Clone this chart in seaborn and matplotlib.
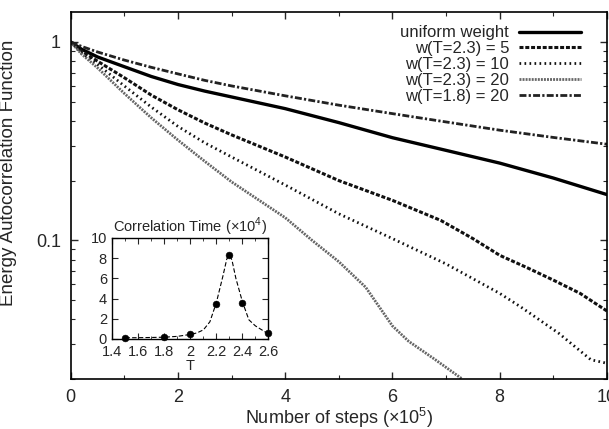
import numpy as np
import pandas as pd
import matplotlib
matplotlib.use("Agg")
import matplotlib.pyplot as plt
import seaborn as sns
from matplotlib.ticker import LogLocator, FixedLocator, MultipleLocator

# ---- data (x in units of 1e5 steps) ----
x_uniform = [0, 0.2, 0.5, 1, 1.5, 2, 2.5, 3, 4, 5, 6, 7, 8, 9, 10]
y_uniform = [1.0, 0.92, 0.84, 0.75, 0.67, 0.61, 0.565, 0.528, 0.461, 0.392, 0.329, 0.284, 0.245, 0.206, 0.17]

x_w5 = [0, 0.2, 0.5, 1, 1.5, 2, 2.5, 3, 4, 5, 6, 6.9, 7.5, 8, 8.5, 9, 9.5, 10]
y_w5 = [1.0, 0.9, 0.8, 0.66, 0.54, 0.455, 0.39, 0.34, 0.263, 0.2, 0.159, 0.126, 0.102, 0.084, 0.073, 0.063, 0.054, 0.044]

x_w10 = [0, 0.2, 0.5, 1, 1.5, 2, 2.5, 3, 4, 5, 6, 7, 8, 8.4, 9.1, 9.7, 10]
y_w10 = [1.0, 0.88, 0.77, 0.6, 0.47, 0.375, 0.31, 0.263, 0.19, 0.136, 0.102, 0.076, 0.054, 0.046, 0.034, 0.025, 0.024]

x_w20 = [0, 0.2, 0.5, 1, 1.5, 2, 2.5, 3, 4, 4.5, 5, 5.5, 6, 6.3, 6.8, 7.3]
y_w20 = [1.0, 0.87, 0.74, 0.55, 0.415, 0.32, 0.25, 0.197, 0.13, 0.1, 0.078, 0.058, 0.037, 0.031, 0.025, 0.02]

x_w20_18 = [0, 0.2, 0.5, 1, 1.5, 2, 2.5, 3, 4, 5, 6, 7, 8, 9, 10]
y_w20_18 = [1.0, 0.95, 0.89, 0.81, 0.745, 0.69, 0.64, 0.6, 0.535, 0.48, 0.435, 0.395, 0.359, 0.33, 0.305]

labels = ["uniform weight", "w(T=2.3) = 5", "w(T=2.3) = 10", "w(T=2.3) = 20", "w(T=1.8) = 20"]

# inset: correlation time (x1e4) vs T
T_pts = [1.5, 1.8, 2.0, 2.2, 2.3, 2.4, 2.6]
tau_pts = [0.13, 0.2, 0.46, 3.5, 8.3, 3.6, 0.55]
T_fit = [1.5, 1.6, 1.7, 1.8, 1.9, 2.0, 2.05, 2.1, 2.15, 2.2, 2.25, 2.28, 2.3, 2.32, 2.35, 2.4, 2.45, 2.5, 2.55, 2.6]
tau_fit = [0.12, 0.13, 0.15, 0.18, 0.26, 0.45, 0.6, 0.9, 1.7, 3.6, 6.2, 7.9, 8.3, 7.8, 6.0, 3.7, 1.9, 1.3, 0.9, 0.5]

sns.set_theme(style="ticks")
plt.rcParams["font.family"] = ["Liberation Sans", "DejaVu Sans"]
plt.rcParams["mathtext.fontset"] = "custom"
plt.rcParams["mathtext.rm"] = "Liberation Sans"

fig = plt.figure(figsize=(6.09, 4.29), dpi=100)
ax = fig.add_axes([0.1161, 0.1166, 0.8806, 0.8561])

series = [
    (x_uniform, y_uniform, dict(color="black", lw=2.4, linestyle="-")),
    (x_w5, y_w5, dict(color="#111111", lw=2.2, linestyle=(0, (1.3, 0.6)))),
    (x_w10, y_w10, dict(color="#111111", lw=2.0, linestyle=(0, (0.6, 1.2)))),
    (x_w20, y_w20, dict(color="#666666", lw=2.0, linestyle=(0, (0.7, 0.4)))),
    (x_w20_18, y_w20_18, dict(color="#222222", lw=2.0, linestyle=(0, (2.5, 0.8, 0.8, 0.8)))),
]
for (xs, ys, st), lab in zip(series, labels):
    df = pd.DataFrame({"x": xs, "y": ys})
    sns.lineplot(data=df, x="x", y="y", ax=ax, label=lab, **st)

ax.set_yscale("log")
ax.set_xlim(0, 10)
ax.set_ylim(0.02, 1.42)
ax.set_xticks([0, 2, 4, 6, 8, 10])
ax.set_xticklabels(["0", "2", "4", "6", "8", "10"])
ax.xaxis.set_minor_locator(MultipleLocator(1))
ax.yaxis.set_major_locator(FixedLocator([0.1, 1]))
ax.set_yticklabels(["0.1", "1"])
ax.yaxis.set_minor_locator(LogLocator(base=10, subs=np.arange(2, 10)))
ax.yaxis.set_minor_formatter(plt.NullFormatter())
ax.tick_params(which="both", direction="in", top=True, right=True, labelsize=13, pad=7)
ax.tick_params(which="major", length=5, width=1)
ax.tick_params(which="minor", length=3, width=0.8)
for s in ax.spines.values():
    s.set_linewidth(1.2)
    s.set_color("black")
ax.set_xlabel("Number of steps ($\\times$10$^5$)", fontsize=13, labelpad=0)
ax.set_ylabel("Energy Autocorrelation Function", fontsize=13.5)
ax.yaxis.set_label_coords(-0.1, 0.56)

leg = ax.legend(loc="upper right", bbox_to_anchor=(0.97, 0.99), frameon=False, markerfirst=False,
                fontsize=12, handlelength=3.7, labelspacing=0.05, borderaxespad=0.2, handletextpad=0.6)

# inset
axi = fig.add_axes([0.1847, 0.2098, 0.2559, 0.2359])
sns.lineplot(x=T_fit, y=tau_fit, ax=axi, color="black", lw=0.8, linestyle=(0, (4, 2)))
sns.scatterplot(x=T_pts, y=tau_pts, ax=axi, color="black", s=24, edgecolor="black", zorder=5, clip_on=False)
axi.set_xlim(1.4, 2.6)
axi.set_ylim(0, 10)
axi.set_xticks([1.4, 1.6, 1.8, 2.0, 2.2, 2.4, 2.6])
axi.set_xticklabels(["1.4", "1.6", "1.8", "2", "2.2", "2.4", "2.6"])
axi.xaxis.set_minor_locator(MultipleLocator(0.1))
axi.set_yticks([0, 2, 4, 6, 8, 10])
axi.tick_params(which="both", direction="in", top=True, right=True, labelsize=10.5, pad=4)
axi.tick_params(which="major", length=4, width=0.8)
axi.tick_params(which="minor", length=2, width=0.6)
for s in axi.spines.values():
    s.set_linewidth(1.0)
    s.set_color("black")
axi.set_title("Correlation Time ($\\times$10$^4$)", fontsize=10.5, pad=3)
axi.set_xlabel("T", fontsize=10.5, labelpad=0)
axi.set_ylabel("")

fig.savefig("out.png", dpi=100)
